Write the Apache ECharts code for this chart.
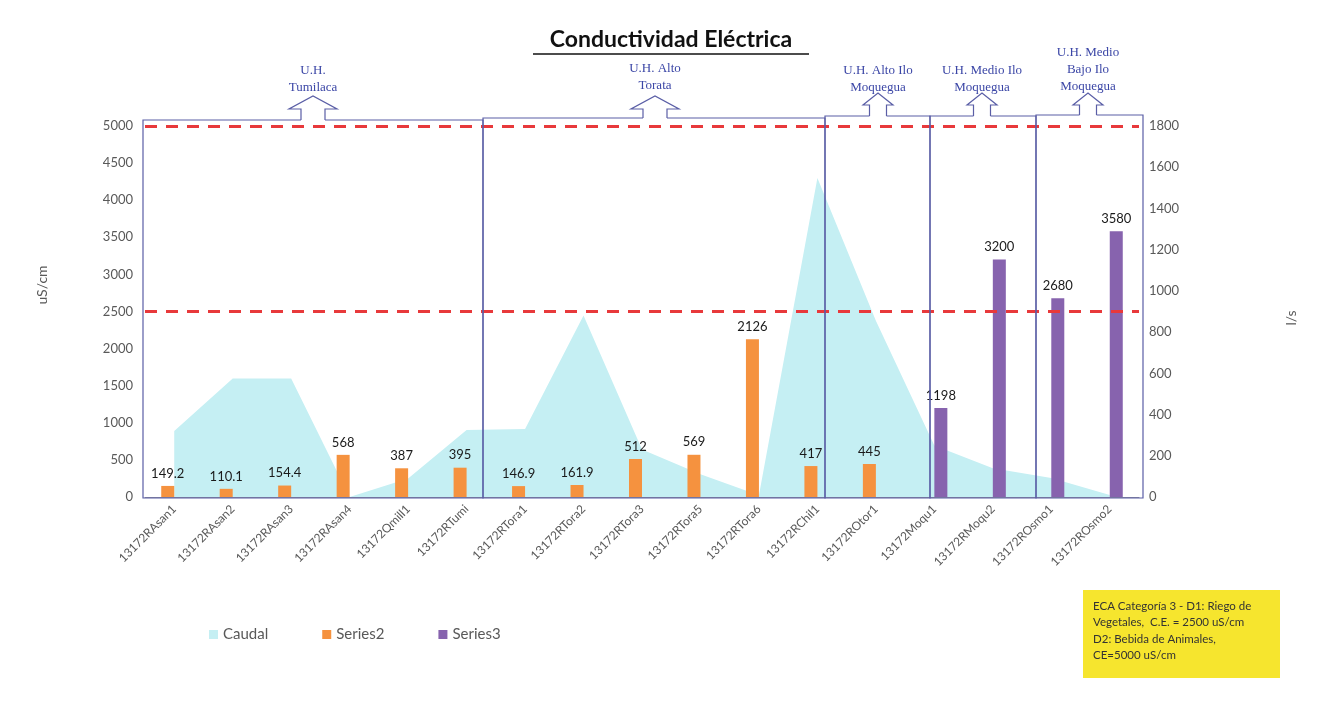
<!DOCTYPE html>
<html>
<head>
<meta charset="utf-8">
<script src="https://cdn.jsdelivr.net/npm/echarts@6/dist/echarts.min.js"></script>
<style>
  html, body { margin: 0; padding: 0; background: #fff; }
  #chart { width: 1321px; height: 712px; }
</style>
</head>
<body>
<div id="chart"></div>
<script>
// data
const categories = [
  "13172RAsan1", "13172RAsan2", "13172RAsan3", "13172RAsan4", "13172Qmill1",
  "13172RTumi", "13172RTora1", "13172RTora2", "13172RTora3", "13172RTora5",
  "13172RTora6", "13172RChil1", "13172ROtor1", "13172Moqu1", "13172RMoqu2",
  "13172ROsmo1", "13172ROsmo2",
];
const caudal = [320, 575, 575, 0, 90, 325, 330, 880, 230, 110, 8, 1548, 855, 250, 140, 92, 10];
const series2 = [149.2, 110.1, 154.4, 568, 387, 395, 146.9, 161.9, 512, 569, 2126, 417, 445, null, null, null, null];
const series3 = [null, null, null, null, null, null, null, null, null, null, null, null, null, 1198, 3200, 2680, 3580];
const limits = [2500, 5000];
const groupLabels = [
  "U.H.\nTumilaca",
  "U.H. Alto\nTorata",
  "U.H. Alto Ilo\nMoquegua",
  "U.H. Medio Ilo\nMoquegua",
  "U.H. Medio\nBajo Ilo\nMoquegua",
];
const noteText = "ECA Categoría 3 - D1: Riego de\nVegetales,  C.E. = 2500 uS/cm\nD2: Bebida de Animales,\nCE=5000 uS/cm";

const chart = echarts.init(document.getElementById("chart"));

const axisColor = "#595959";
const boxColor = "#5a5ea6";
const font = "Lato, 'Noto Sans', sans-serif";

// hand drawn group boxes + arrows (annotation only)
const boxes = [
  { x0: 143, x1: 483, top: 120, cx: 313, big: true, labelY: 62 },
  { x0: 483, x1: 825, top: 118, cx: 655, big: true, labelY: 60 },
  { x0: 825, x1: 930, top: 116, cx: 878, big: false, labelY: 62 },
  { x0: 930, x1: 1036, top: 116, cx: 982, big: false, labelY: 62 },
  { x0: 1036, x1: 1143, top: 115, cx: 1088, big: false, labelY: 44 },
];

const graphic = [];
boxes.forEach((b, i) => {
  graphic.push({
    type: "rect",
    shape: { x: b.x0, y: b.top, width: b.x1 - b.x0, height: 498 - b.top },
    style: { fill: "none", stroke: boxColor, lineWidth: 1.2 },
    z: 50,
  });
  const sh = b.big ? 12 : 8.5;
  const hh = b.big ? 24 : 15;
  const tip = b.big ? 96 : 93;
  const base = b.big ? 109 : 105;
  const pts = [
    [b.cx - sh, b.top], [b.cx - sh, base], [b.cx - hh, base], [b.cx, tip],
    [b.cx + hh, base], [b.cx + sh, base], [b.cx + sh, b.top],
  ];
  graphic.push({
    type: "polygon",
    shape: { points: pts.map((p, k) => (k === 0 || k === 6 ? [p[0], p[1] + 1.5] : p)) },
    style: { fill: "#fff", stroke: "none" },
    z: 51,
  });
  graphic.push({
    type: "polyline",
    shape: { points: pts },
    style: { fill: "none", stroke: boxColor, lineWidth: 1.2 },
    z: 52,
  });
  graphic.push({
    type: "text",
    x: b.cx,
    y: b.labelY,
    style: {
      text: groupLabels[i],
      font: "13px 'Liberation Serif', 'DejaVu Serif', serif",
      fill: "#3b46a6",
      textAlign: "center",
      lineHeight: 17,
    },
    z: 53,
  });
});

// title with underline
graphic.push({
  type: "text",
  x: 671,
  y: 28,
  style: {
    text: "Conductividad Eléctrica",
    font: "bold 23px " + font,
    fill: "#111",
    textAlign: "center",
  },
});
graphic.push({
  type: "line",
  shape: { x1: 533, y1: 54, x2: 809, y2: 54 },
  style: { stroke: "#111", lineWidth: 1.5 },
});

// axis titles
graphic.push({
  type: "text",
  x: 35,
  y: 285,
  rotation: Math.PI / 2,
  style: { text: "uS/cm", font: "14px " + font, fill: axisColor, textAlign: "center" },
});
graphic.push({
  type: "text",
  x: 1284,
  y: 318,
  rotation: Math.PI / 2,
  style: { text: "l/s", font: "14px " + font, fill: axisColor, textAlign: "center" },
});

// yellow note
graphic.push({
  type: "rect",
  shape: { x: 1083, y: 590, width: 197, height: 88 },
  style: { fill: "#f6e52e" },
});
graphic.push({
  type: "text",
  x: 1093,
  y: 598,
  style: {
    text: noteText,
    font: "11.5px " + font,
    fill: "#333",
    lineHeight: 16.5,
  },
});

chart.setOption({
  animation: false,
  textStyle: { fontFamily: font },
  grid: { left: 145, right: 182, top: 126, bottom: 215 },
  legend: {
    data: [
      { name: "Caudal", icon: "rect" },
      { name: "Series2", icon: "rect" },
      { name: "Series3", icon: "rect" },
    ],
    left: 204,
    top: 622,
    itemWidth: 9,
    itemHeight: 9,
    itemGap: 54,
    textStyle: { fontSize: 15, color: axisColor, fontFamily: font },
  },
  xAxis: {
    type: "category",
    data: categories,
    boundaryGap: true,
    axisLine: { lineStyle: { color: "#8a8a9a" } },
    axisTick: { show: false },
    axisLabel: {
      rotate: 45,
      color: axisColor,
      fontSize: 12,
      margin: 10,
      interval: 0,
    },
  },
  yAxis: [
    {
      type: "value",
      min: 0,
      max: 5000,
      interval: 500,
      axisLine: { show: false },
      axisTick: { show: false },
      splitLine: { show: false },
      axisLabel: { color: axisColor, fontSize: 13, margin: 12, formatter: (v) => String(v) },
    },
    {
      type: "value",
      min: 0,
      max: 1800,
      interval: 200,
      axisLine: { show: false },
      axisTick: { show: false },
      splitLine: { show: false },
      axisLabel: { color: axisColor, fontSize: 13, margin: 10, formatter: (v) => String(v) },
    },
  ],
  series: [
    {
      name: "Caudal",
      type: "line",
      yAxisIndex: 1,
      data: caudal,
      symbol: "none",
      lineStyle: { width: 0 },
      itemStyle: { color: "#c5eff3" },
      areaStyle: { color: "#c5eff3", opacity: 1 },
      z: 1,
    },
    {
      name: "Series2",
      type: "bar",
      data: series2,
      barWidth: 13,
      barGap: "0%",
      itemStyle: { color: "#f5923f" },
      label: {
        show: true,
        position: "top",
        distance: 6,
        color: "#1a1a1a",
        fontSize: 13,
      },
      markLine: {
        silent: true,
        symbol: "none",
        label: { show: false },
        lineStyle: { color: "#e8393b", width: 3, type: [12, 9] },
        data: limits.map((v) => ({ yAxis: v })),
      },
      z: 3,
    },
    {
      name: "Series3",
      type: "bar",
      data: series3,
      barWidth: 13,
      itemStyle: { color: "#8763ae" },
      label: {
        show: true,
        position: "top",
        distance: 6,
        color: "#1a1a1a",
        fontSize: 13,
      },
      z: 3,
    },
  ],
  graphic,
});
</script>
</body>
</html>
